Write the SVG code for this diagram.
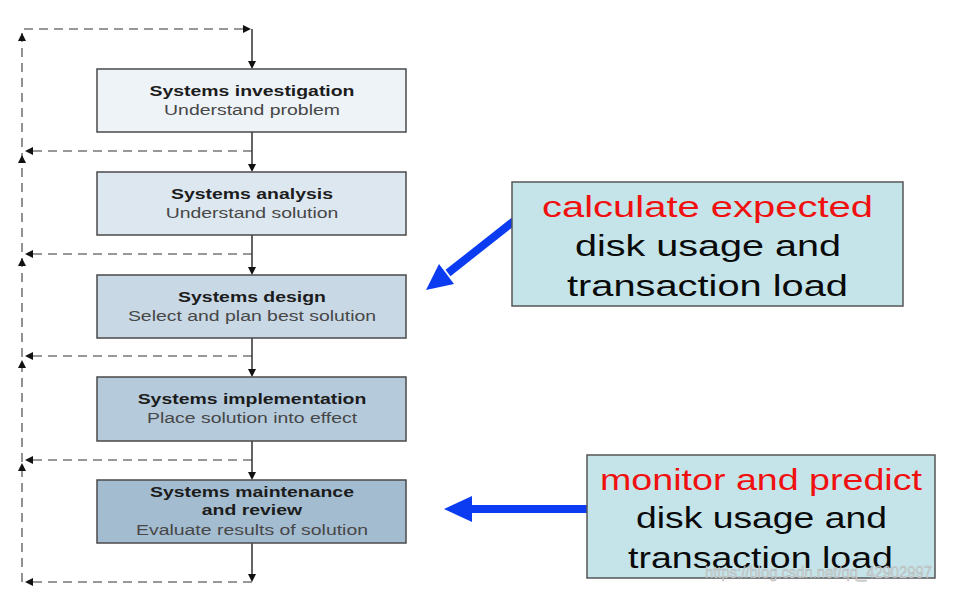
<svg xmlns="http://www.w3.org/2000/svg" width="977" height="592" viewBox="0 0 977 592">
<style>
.box{stroke:#4a4a4a;stroke-width:1.5}
.t{font-family:"Liberation Sans",Arial,sans-serif;font-size:14.5px;font-weight:bold;fill:#1c1c1c;text-anchor:middle}
.s{font-family:"Liberation Sans",Arial,sans-serif;font-size:14.5px;fill:#474747;text-anchor:middle}
.dash{fill:none;stroke:#777;stroke-width:1.6;stroke-dasharray:9 6}
.solid{fill:none;stroke:#333;stroke-width:1.5}
.head{fill:#111}
.note{fill:#c5e4e9;stroke:#555;stroke-width:1.5}
.big{font-family:"Liberation Sans",Arial,sans-serif;font-size:29px;text-anchor:middle;fill:#0a0a0a}
.red{fill:#f01010}
.blue{stroke:#0b3cf2;stroke-width:8;fill:none}
.bluehead{fill:#0b3cf2}
</style>
<rect width="977" height="592" fill="#ffffff"/>
<g id="connectors">
<path class="dash" d="M22 582 V29 H244"/>
<path class="dash" d="M252 151 H28 M252 254 H28 M252 356 H28 M252 460 H28 M252 582 H28"/>
<path class="solid" d="M252 29 V62 M252 132 V165 M252 235 V268 M252 338 V370 M252 441 V473 M252 543 V575"/>
<polygon class="head" points="251,29 243,25 243,33"/>
<polygon class="head" points="252,69 248,61 256,61"/>
<polygon class="head" points="252,172 248,164 256,164"/>
<polygon class="head" points="252,275 248,267 256,267"/>
<polygon class="head" points="252,377 248,369 256,369"/>
<polygon class="head" points="252,480 248,472 256,472"/>
<polygon class="head" points="252,582 248,574 256,574"/>
<polygon class="head" points="25,151 33,147 33,155"/>
<polygon class="head" points="25,254 33,250 33,258"/>
<polygon class="head" points="25,356 33,352 33,360"/>
<polygon class="head" points="25,460 33,456 33,464"/>
<polygon class="head" points="25,582 33,578 33,586"/>
<polygon class="head" points="22,33 18,41 26,41"/>
<polygon class="head" points="22,155 18,163 26,163"/>
<polygon class="head" points="22,258 18,266 26,266"/>
<polygon class="head" points="22,360 18,368 26,368"/>
<polygon class="head" points="22,463 18,471 26,471"/>
<path class="blue" d="M514 221 L448 273"/>
<polygon class="bluehead" points="426,290 454,284 439,264"/>
<path class="blue" d="M588 509 H468"/>
<polygon class="bluehead" points="444,509 472,496 472,522"/>
</g>
<g id="n1">
<rect class="box" x="97" y="69" width="309" height="63" fill="#eef3f8"/>
<g transform="translate(252 0) scale(1.34 1)">
<text class="t" x="0" y="96">Systems investigation</text>
<text class="s" x="0" y="115">Understand problem</text>
</g>
</g>
<g id="n2">
<rect class="box" x="97" y="172" width="309" height="63" fill="#dce7f0"/>
<g transform="translate(252 0) scale(1.34 1)">
<text class="t" x="0" y="199">Systems analysis</text>
<text class="s" x="0" y="218">Understand solution</text>
</g>
</g>
<g id="n3">
<rect class="box" x="97" y="275" width="309" height="63" fill="#c8d8e5"/>
<g transform="translate(252 0) scale(1.34 1)">
<text class="t" x="0" y="302">Systems design</text>
<text class="s" x="0" y="321">Select and plan best solution</text>
</g>
</g>
<g id="n4">
<rect class="box" x="97" y="377" width="309" height="64" fill="#b5cadb"/>
<g transform="translate(252 0) scale(1.34 1)">
<text class="t" x="0" y="404">Systems implementation</text>
<text class="s" x="0" y="423">Place solution into effect</text>
</g>
</g>
<g id="n5">
<rect class="box" x="97" y="480" width="309" height="63" fill="#a4bcd0"/>
<g transform="translate(252 0) scale(1.34 1)">
<text class="t" x="0" y="497">Systems maintenance</text>
<text class="t" x="0" y="515">and review</text>
<text class="s" x="0" y="535">Evaluate results of solution</text>
</g>
</g>
<g id="noteA">
<rect class="note" x="512" y="182" width="391" height="124"/>
<text class="big red" x="707.5" y="217" textLength="331" lengthAdjust="spacingAndGlyphs">calculate expected</text>
<text class="big" x="708" y="256" textLength="266" lengthAdjust="spacingAndGlyphs">disk usage and</text>
<text class="big" x="707.5" y="296" textLength="281" lengthAdjust="spacingAndGlyphs">transaction load</text>
</g>
<g id="noteB">
<rect class="note" x="587" y="455" width="348" height="123"/>
<text class="big red" x="761" y="490" textLength="322" lengthAdjust="spacingAndGlyphs">monitor and predict</text>
<text class="big" x="761.5" y="528" textLength="251" lengthAdjust="spacingAndGlyphs">disk usage and</text>
<text class="big" x="760.5" y="568" textLength="265" lengthAdjust="spacingAndGlyphs">transaction load</text>
</g>
<text x="705" y="578" textLength="227" lengthAdjust="spacingAndGlyphs" font-family="'Liberation Sans',Arial,sans-serif" font-size="17" fill="#d8d8d8" fill-opacity="0.9" stroke="#9a9a9a" stroke-width="0.5" stroke-opacity="0.7">https://blog.csdn.net/qq_42902997</text>
</svg>
